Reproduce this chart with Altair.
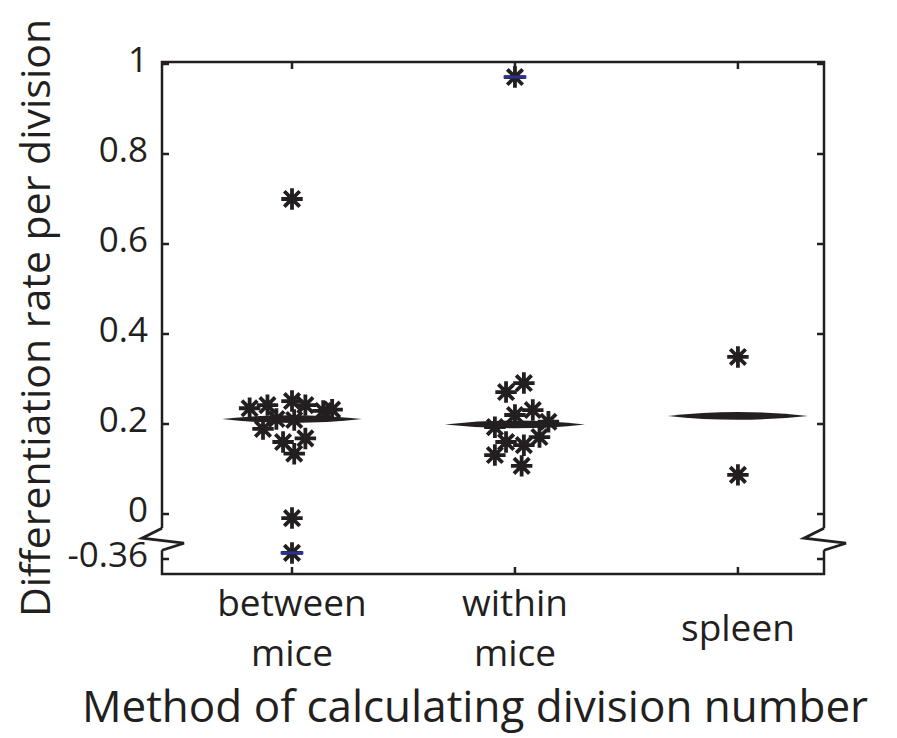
import altair as alt
import pandas as pd
import numpy as np

# ---------------- data ----------------
categories = ["between mice", "within mice", "spleen"]
category_labels = ["between\nmice", "within\nmice", "spleen"]

between_values = [0.235, 0.242, 0.251, 0.242, 0.229, 0.232, 0.189, 0.211, 0.209,
                  0.160, 0.168, 0.134, 0.700, -0.009, -0.330]
between_jitter = [-0.19, -0.11, 0.0, 0.06, 0.14, 0.18, -0.13, -0.07, 0.01,
                  -0.04, 0.06, 0.01, 0.0, 0.0, 0.0]
between_flag = [False] * 14 + [True]

within_values = [0.271, 0.291, 0.220, 0.231, 0.205, 0.193, 0.160, 0.153, 0.171,
                 0.131, 0.107, 0.971]
within_jitter = [-0.04, 0.04, 0.0, 0.08, 0.15, -0.09, -0.04, 0.04, 0.11,
                 -0.09, 0.03, 0.0]
within_flag = [False] * 11 + [True]

spleen_values = [0.349, 0.087]
spleen_jitter = [0.0, 0.0]
spleen_flag = [False, False]

ytick_values = [-0.36, 0, 0.2, 0.4, 0.6, 0.8, 1.0]
ytick_labels = ["-0.36", "0", "0.2", "0.4", "0.6", "0.8", "1"]

x_title = "Method of calculating division number"
y_title = "Differentiation rate per division"

# ---------------- broken axis mapping ----------------
BREAK_AT = -0.07
def to_display(v):
    return v if v >= BREAK_AT else -0.1 + (v + 0.36) * 0.45

XMIN, XMAX = 0.417, 3.386
YMIN, YMAX = -0.1333, 1.0044
BREAK_Y = -0.056
W, H = 662, 512

INK = "#231f20"
BLUE = "#2e3192"
FONT = "Open Sans"

rows = []
for ci, (vals, jit, flg) in enumerate([(between_values, between_jitter, between_flag),
                                       (within_values, within_jitter, within_flag),
                                       (spleen_values, spleen_jitter, spleen_flag)]):
    for v, j, f in zip(vals, jit, flg):
        rows.append({"category": categories[ci], "x": ci + 1 + j,
                     "value": v, "y": to_display(v), "flag": f})
pts = pd.DataFrame(rows)

med = pts.groupby("category", sort=False)["value"].median().reset_index()
med["x"] = [categories.index(c) + 1 for c in med["category"]]
med["y"] = med["value"].map(to_display)

ytick_disp = [to_display(v) for v in ytick_values]
ticks_lr = pd.DataFrame({"y": ytick_disp * 2,
                         "x": [XMIN] * len(ytick_disp) + [XMAX] * len(ytick_disp),
                         "side": ["left"] * len(ytick_disp) + ["right"] * len(ytick_disp)})
ticks_tb = pd.DataFrame({"x": [1, 2, 3, 1, 2, 3],
                         "y": [YMIN] * 3 + [YMAX] * 3,
                         "side": ["bottom"] * 3 + ["top"] * 3})
ylab_df = pd.DataFrame({"y": ytick_disp, "x": [XMIN] * len(ytick_disp),
                        "label": [l + ("\u00a0\u00a0" if l == "1" else "") for l in ytick_labels]})
breaks = pd.DataFrame({"x": [XMIN, XMAX], "y": [BREAK_Y, BREAK_Y]})
labels_df = pd.DataFrame({"x": [1, 2, 3], "label": category_labels,
                          "multi": ["\n" in l for l in category_labels]})

xscale = alt.Scale(domain=[XMIN, XMAX], nice=False, zero=False)
yscale = alt.Scale(domain=[YMIN, YMAX], nice=False, zero=False)
xn = alt.X("x:Q", scale=xscale, axis=None)
yn = alt.Y("y:Q", scale=yscale, axis=None)

STAR = "M-1,0L1,0M0,-1L0,1M-0.72,-0.72L0.72,0.72M-0.72,0.72L0.72,-0.72"
LENS = "M-1,0Q0,-0.11,1,0Q0,0.11,-1,0Z"

stars = alt.Chart(pts).mark_point(
    shape=STAR, filled=False, stroke=INK, strokeWidth=3.8, size=460, opacity=1
).encode(x=xn, y=yn)

blue = alt.Chart(pts).transform_filter("datum.flag").mark_point(
    shape="M-1,0L1,0", filled=False, stroke=BLUE, strokeWidth=3, size=520, opacity=1
).encode(x=xn, y=yn)

lens = alt.Chart(med).mark_point(
    shape=LENS, filled=True, fill=INK, strokeWidth=0, size=19600, opacity=1
).encode(x=xn, y=yn)

def tick_layer(df, side, path):
    return alt.Chart(df).transform_filter(f"datum.side == '{side}'").mark_point(
        shape=path, filled=False, stroke=INK, strokeWidth=2.5, size=196, opacity=1
    ).encode(x=xn, y=yn)

tl = tick_layer(ticks_lr, "left", "M0,0L1,0")
tr = tick_layer(ticks_lr, "right", "M0,0L-1,0")
tb = tick_layer(ticks_tb, "bottom", "M0,0L0,-1")
tt = tick_layer(ticks_tb, "top", "M0,0L0,1")

mask = alt.Chart(breaks).mark_point(
    shape="M-0.3,-1.1L0.3,-1.1L0.3,1.1L-0.3,1.1Z", filled=True, fill="white",
    strokeWidth=0, size=400, opacity=1
).encode(x=xn, y=yn)

zig = alt.Chart(breaks).mark_point(
    shape="M0,-1.1L-2,-0.1L2.2,0.4L0,1.1", filled=False, stroke=INK, strokeWidth=2.8,
    strokeJoin="miter", size=400, opacity=1
).encode(x=xn, y=yn)

ylabels = alt.Chart(ylab_df).mark_text(
    align="right", baseline="middle", dx=-14, dy=-3, font=FONT, fontSize=35, color=INK
).encode(x=xn, y=yn, text="label:N")

cat_multi = alt.Chart(labels_df).transform_filter("datum.multi").mark_text(
    lineBreak="\n", baseline="middle", align="center", font=FONT, fontSize=37,
    lineHeight=50, color=INK
).encode(x=xn, y=alt.value(H + 31), text="label:N")

cat_single = alt.Chart(labels_df).transform_filter("!datum.multi").mark_text(
    baseline="middle", align="center", font=FONT, fontSize=37, color=INK
).encode(x=xn, y=alt.value(H + 56), text="label:N")

xtitle = alt.Chart(pd.DataFrame({"t": [x_title]})).mark_text(
    align="center", baseline="alphabetic", font=FONT, fontSize=44, color=INK
).encode(x=alt.value(313), y=alt.value(H + 148), text="t:N")

ytitle = alt.Chart(pd.DataFrame({"t": [y_title]})).mark_text(
    align="center", baseline="alphabetic", angle=270, font=FONT, fontSize=41, color=INK
).encode(x=alt.value(-112), y=alt.value(H / 2), text="t:N")

chart = alt.layer(stars, blue, lens, tl, tr, tb, tt, mask, zig,
                  ylabels, cat_multi, cat_single, xtitle, ytitle).properties(
    width=W, height=H,
    autosize=alt.AutoSizeParams(type="none"),
    padding={"left": 162, "top": 62, "right": 73, "bottom": 164},
    background="white",
).configure_view(stroke=INK, strokeWidth=2.5)

chart.save("out.html", embed_options={"renderer": "svg", "actions": False})
